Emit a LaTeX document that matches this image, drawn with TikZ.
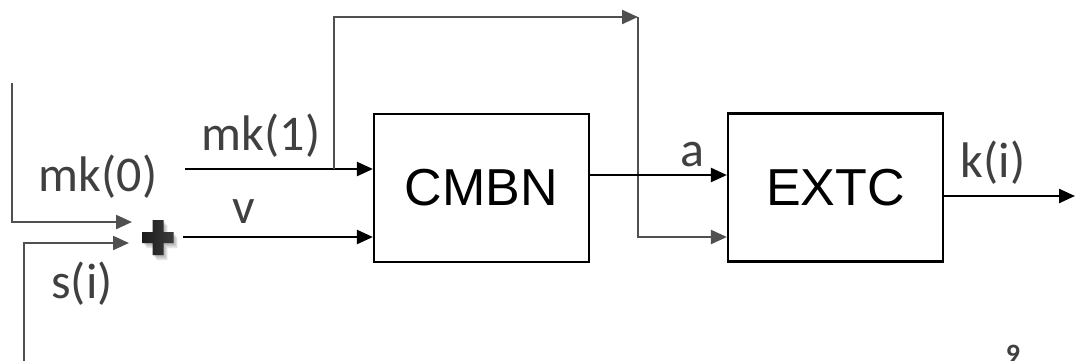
\documentclass[tikz,border=0pt]{standalone}
\usepackage{fontspec}
\setmainfont{Carlito}
\newfontfamily\arialf{Liberation Sans}
\usetikzlibrary{arrows.meta,calc}
\definecolor{lgrey}{HTML}{505050}
\definecolor{tgrey}{HTML}{404040}
\definecolor{plusl}{HTML}{1c1c1c}
\definecolor{plusr}{HTML}{3c3c3c}
\tikzset{
  blk/.style={draw=black, line width=2.4pt},
  gry/.style={draw=lgrey, line width=2.2pt},
  tipb/.style={-{Triangle[length=16pt,width=14pt]}},
  block/.style={draw=black, line width=2.2pt, minimum width=215pt, minimum height=148pt,
    inner sep=0pt, font=\arialf\fontsize{52}{52}\selectfont},
  lab/.style={text=tgrey, inner sep=0pt, font=\fontsize{50}{50}\selectfont},
  pluspath/.pic={
    \path[pic actions] (-5.5,-17.5) -- ++(11,0) -- ++(0,12) -- ++(10,0) -- ++(0,11) -- ++(-10,0)
      -- ++(0,12) -- ++(-11,0) -- ++(0,-12) -- ++(-10,0) -- ++(0,-11) -- ++(10,0) -- cycle;
  },
}
\begin{document}
\begin{tikzpicture}[x=1pt,y=-1pt]
\useasboundingbox (0,0) rectangle (1075,360);
\node[block] (cmbn) at (481.5,188) {CMBN};
\node[block] (extc) at (835.5,187.5) {EXTC};
% adder with soft shadow
\coordinate (plus) at (158,237.5);
\foreach \d in {1,2,3,4,5,6} {
  \pic[fill=black, fill opacity=0.06] at ($(plus)+(\d*0.7,\d*0.9)$) {pluspath};
}
\pic[left color=plusl, right color=plusr] at (plus) {pluspath};
% inputs to adder
\coordinate (l1) at (12,83);
\coordinate (l1e) at (132,222);
\coordinate (l2) at (24,362);
\coordinate (l2e) at (129,243);
\draw[gry,tipb] (l1) |- (l1e);
\draw[gry,tipb] (l2) |- (l2e);
% mk(1) and v
\coordinate (mk1s) at (185,169);
\coordinate (vs) at (183,237);
\draw[blk,tipb] (mk1s) -- (cmbn.west |- mk1s);
\draw[blk,tipb] (vs) -- (cmbn.west |- vs);
% bypass branch
\coordinate (br) at (334,169);
\coordinate (top) at (638,17);
\coordinate (lo) at (638,237);
\draw[gry,tipb] (br) |- (top);
\draw[gry,tipb] (top) -- (lo) -- (extc.west |- lo);
% a and k(i)
\coordinate (aa) at (589,175);
\draw[blk,tipb] (aa) -- (extc.west |- aa);
\coordinate (kout) at (1075,196);
\draw[blk,tipb] (extc.east |- kout) -- (kout);
% labels
\node[lab] (tmk0) at (98,177) {mk(0)};
\node[lab] (tsi) at (82,284) {s(i)};
\node[lab] (tmk1) at (261,136) {mk(1)};
\node[lab] (tv) at (244,212) {v};
\node[lab] (ta) at (692,155) {a};
\node[lab] (tki) at (993,163) {k(i)};
\node[text=tgrey, anchor=north, inner sep=0pt, font=\bfseries\fontsize{28}{28}\selectfont] (pg) at (1013,345) {9};
\end{tikzpicture}
\end{document}
